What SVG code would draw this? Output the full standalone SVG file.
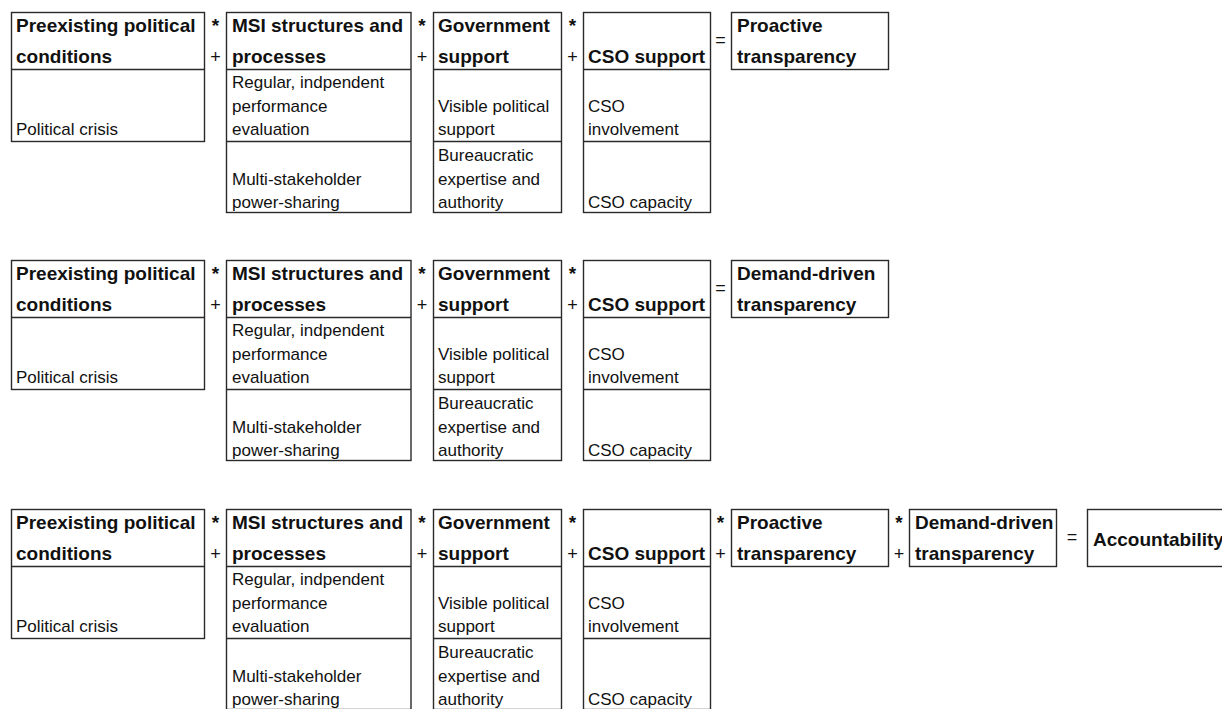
<svg xmlns="http://www.w3.org/2000/svg" width="1222" height="709" viewBox="0 0 1222 709">
<style>
rect{fill:#fff;stroke:#2a2a2a;stroke-width:1.4}
line{stroke:#2a2a2a;stroke-width:1.4}
text{font-family:"Liberation Sans",Arial,sans-serif;fill:#111}
.h{font-size:19px;font-weight:bold}
.b{font-size:17px}
.star{font-size:19px;font-weight:bold;text-anchor:middle}
.op{font-size:18px;text-anchor:middle}
</style>
<defs>
<g id="pre">
<rect x="11.5" y="12.5" width="193" height="129"/>
<line x1="11.5" y1="69.5" x2="204.5" y2="69.5"/>
<text class="h" x="16" y="32">Preexisting political</text>
<text class="h" x="16" y="62.5">conditions</text>
<text class="b" x="16" y="135">Political crisis</text>
</g>
<g id="msi">
<rect x="226.5" y="12.5" width="184.5" height="200"/>
<line x1="226.5" y1="69.5" x2="411" y2="69.5"/>
<line x1="226.5" y1="141.5" x2="411" y2="141.5"/>
<text class="h" x="232" y="32">MSI structures and</text>
<text class="h" x="232" y="62.5">processes</text>
<text class="b" x="232" y="87.5">Regular, indpendent</text>
<text class="b" x="232" y="111.5">performance</text>
<text class="b" x="232" y="135">evaluation</text>
<text class="b" x="232" y="184.5">Multi-stakeholder</text>
<text class="b" x="232" y="207.5">power-sharing</text>
</g>
<g id="gov">
<rect x="433.5" y="12.5" width="128" height="200"/>
<line x1="433.5" y1="69.5" x2="561.5" y2="69.5"/>
<line x1="433.5" y1="141.5" x2="561.5" y2="141.5"/>
<text class="h" x="438" y="32">Government</text>
<text class="h" x="438" y="62.5">support</text>
<text class="b" x="438" y="111.5">Visible political</text>
<text class="b" x="438" y="135">support</text>
<text class="b" x="438" y="161">Bureaucratic</text>
<text class="b" x="438" y="184.5">expertise and</text>
<text class="b" x="438" y="207.5">authority</text>
</g>
<g id="cso">
<rect x="583.5" y="12.5" width="127" height="200"/>
<line x1="583.5" y1="69.5" x2="710.5" y2="69.5"/>
<line x1="583.5" y1="141.5" x2="710.5" y2="141.5"/>
<text class="h" x="588" y="62.5">CSO support</text>
<text class="b" x="588" y="111.5">CSO</text>
<text class="b" x="588" y="135">involvement</text>
<text class="b" x="588" y="207.5">CSO capacity</text>
</g>
<g id="ops">
<text class="star" x="215.5" y="32">*</text>
<text class="op" x="215.5" y="63">+</text>
<text class="star" x="422" y="32">*</text>
<text class="op" x="422" y="63">+</text>
<text class="star" x="572.5" y="32">*</text>
<text class="op" x="572.5" y="63">+</text>
</g>
</defs>

<g id="block1">
<g id="n1-preexisting"><use href="#pre"/></g>
<g id="n1-msi"><use href="#msi"/></g>
<g id="n1-government"><use href="#gov"/></g>
<g id="n1-cso"><use href="#cso"/></g>
<g id="n1-proactive">
<rect x="731.5" y="12.5" width="157" height="57"/>
<text class="h" x="737" y="32">Proactive</text>
<text class="h" x="737" y="62.5">transparency</text>
</g>
</g>

<g id="block2" transform="translate(0,248)">
<g id="n2-preexisting"><use href="#pre"/></g>
<g id="n2-msi"><use href="#msi"/></g>
<g id="n2-government"><use href="#gov"/></g>
<g id="n2-cso"><use href="#cso"/></g>
<g id="n2-demand">
<rect x="731.5" y="12.5" width="157" height="57"/>
<text class="h" x="737" y="32">Demand-driven</text>
<text class="h" x="737" y="62.5">transparency</text>
</g>
</g>

<g id="block3" transform="translate(0,497)">
<g id="n3-preexisting"><use href="#pre"/></g>
<g id="n3-msi"><use href="#msi"/></g>
<g id="n3-government"><use href="#gov"/></g>
<g id="n3-cso"><use href="#cso"/></g>
<g id="n3-proactive">
<rect x="731.5" y="12.5" width="157" height="57"/>
<text class="h" x="737" y="32">Proactive</text>
<text class="h" x="737" y="62.5">transparency</text>
</g>
<g id="n3-demand">
<rect x="909.5" y="12.5" width="147" height="57"/>
<text class="h" x="915" y="32">Demand-driven</text>
<text class="h" x="915" y="62.5">transparency</text>
</g>
<g id="n3-accountability">
<rect x="1087.5" y="12.5" width="150" height="57"/>
<text class="h" x="1093" y="49">Accountability</text>
</g>
</g>

<g id="connectors">
<use href="#ops"/>
<text class="op" x="720.5" y="46">=</text>
<g transform="translate(0,248)">
<use href="#ops"/>
<text class="op" x="720.5" y="46">=</text>
</g>
<g transform="translate(0,497)">
<use href="#ops"/>
<text class="star" x="720.5" y="32">*</text>
<text class="op" x="720.5" y="63">+</text>
<text class="star" x="899" y="32">*</text>
<text class="op" x="899" y="63">+</text>
<text class="op" x="1072" y="46">=</text>
</g>
</g>
</svg>
